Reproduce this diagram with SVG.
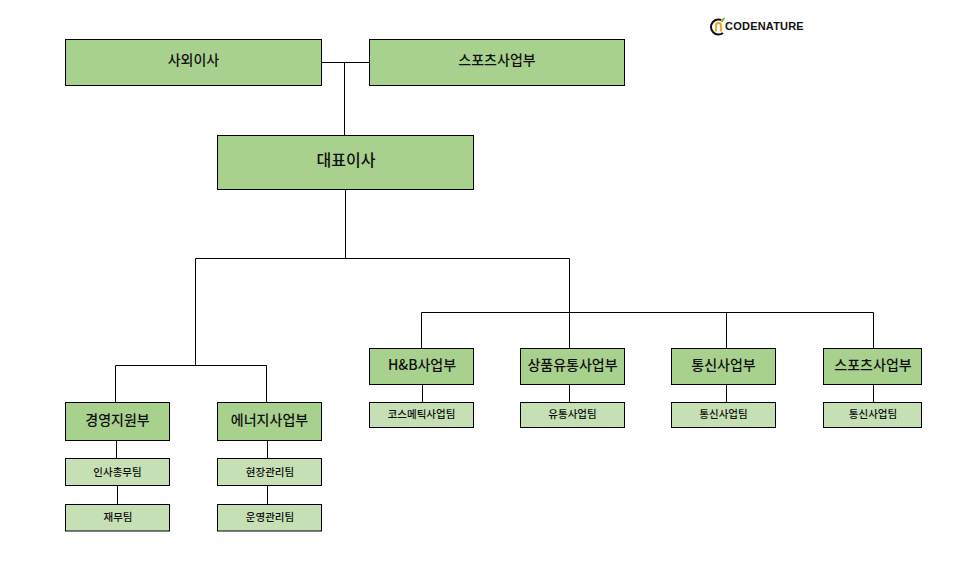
<svg xmlns="http://www.w3.org/2000/svg" width="978" height="584" viewBox="0 0 978 584">
<style>
.a{fill:#a9d18e;stroke:#000;stroke-width:1}
.b{fill:#c5e0b4;stroke:#000;stroke-width:1}
text{font-family:"Noto Sans CJK KR","Liberation Sans",sans-serif;text-anchor:middle;fill:#111}
.t1{font-size:14px;font-weight:500}
.t2{font-size:16px;font-weight:500}
.t3{font-size:10.500px;font-weight:500}
#connectors path{fill:none;stroke:#000;stroke-width:1}
</style>
<rect width="978" height="584" fill="#fff"/>
<g id="connectors">
<path d="M322 62.500H369M344.500 62.500V135"/>
<path d="M345.500 190V258.500M195.500 258.500H569.500V348M195.500 258.500V365.500"/>
<path d="M115.500 402V365.500H266.500V402"/>
<path d="M421.500 348V312.500H873.500V348M726.500 312.500V348"/>
<path d="M116.500 441V458M117.500 486V504M267.500 441V458M267.500 486V504"/>
<path d="M422.500 385V402M569.500 385V402M726.500 385V402M873.500 385V402"/>
</g>
<g id="logo">
<path d="M723 21A7.500 7.500 0 1 0 723 33" fill="none" stroke="#111" stroke-width="2"/>
<path d="M716 31.500V25.500Q716 23 718.500 23Q721 23 721 25.500V31.500" fill="none" stroke="#f0a020" stroke-width="1.800"/>
<path d="M720.500 22Q720.500 18 725 17.500Q725 21.500 720.500 22Z" fill="#8dbf3f"/>
<text x="764.500" y="30" style="font-family:'Liberation Sans',sans-serif;font-size:11px;font-weight:700;letter-spacing:.2px" fill="#111">CODENATURE</text>
</g>
<g id="n1"><rect class="a" x="65.500" y="39.500" width="256" height="46"/><text class="t1" x="193.500" y="65">사외이사</text></g>
<g id="n2"><rect class="a" x="369.500" y="39.500" width="255" height="46"/><text class="t1" x="497" y="65">스포츠사업부</text></g>
<g id="n3"><rect class="a" x="217.500" y="135.500" width="256" height="54"/><text class="t2" x="346" y="166">대표이사</text></g>
<g id="n4"><rect class="a" x="65.500" y="402.500" width="104" height="38"/><text class="t1" x="117.500" y="425">경영지원부</text></g>
<g id="n5"><rect class="a" x="217.500" y="402.500" width="104" height="38"/><text class="t1" x="269.500" y="425">에너지사업부</text></g>
<g id="n6"><rect class="b" x="65.500" y="458.500" width="104" height="27"/><text class="t3" x="117.500" y="476">인사총무팀</text></g>
<g id="n7"><rect class="b" x="65.500" y="504.500" width="104" height="26.500"/><text class="t3" x="118" y="521">재무팀</text></g>
<g id="n8"><rect class="b" x="217.500" y="458.500" width="104" height="27"/><text class="t3" x="270" y="476">현장관리팀</text></g>
<g id="n9"><rect class="b" x="217.500" y="504.500" width="104" height="26.500"/><text class="t3" x="270" y="521">운영관리팀</text></g>
<g id="n10"><rect class="a" x="369.500" y="348.500" width="104" height="36"/><text class="t1" x="422" y="370">H&amp;B사업부</text></g>
<g id="n11"><rect class="a" x="520.500" y="348.500" width="104" height="36"/><text class="t1" x="572.500" y="370">상품유통사업부</text></g>
<g id="n12"><rect class="a" x="671.500" y="348.500" width="104" height="36"/><text class="t1" x="723.500" y="370">통신사업부</text></g>
<g id="n13"><rect class="a" x="823.500" y="348.500" width="98" height="36"/><text class="t1" x="873" y="370">스포츠사업부</text></g>
<g id="n14"><rect class="b" x="369.500" y="402.500" width="104" height="25"/><text class="t3" x="421.500" y="418">코스메틱사업팀</text></g>
<g id="n15"><rect class="b" x="520.500" y="402.500" width="104" height="25"/><text class="t3" x="572.500" y="418">유통사업팀</text></g>
<g id="n16"><rect class="b" x="671.500" y="402.500" width="104" height="25"/><text class="t3" x="723.500" y="418">통신사업팀</text></g>
<g id="n17"><rect class="b" x="823.500" y="402.500" width="98" height="25"/><text class="t3" x="873" y="418">통신사업팀</text></g>
</svg>
